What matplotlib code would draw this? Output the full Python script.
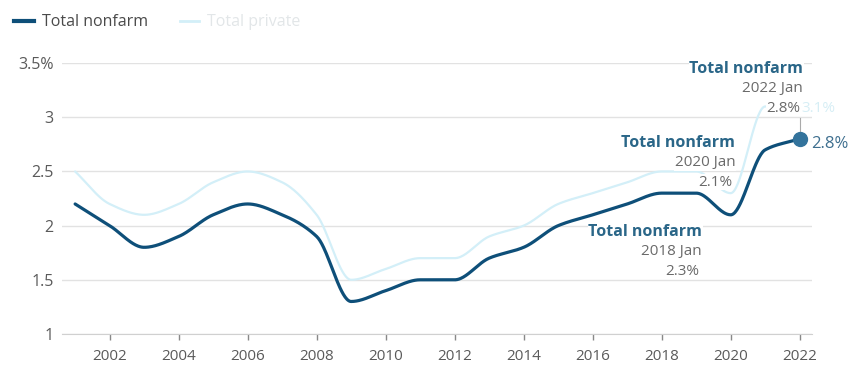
import numpy as np
import matplotlib
matplotlib.use("Agg")
import matplotlib.pyplot as plt
from matplotlib.lines import Line2D

plt.rcParams['font.family'] = ['Open Sans', 'DejaVu Sans']

years = list(range(2001, 2023))
total_nonfarm = [2.2, 2.0, 1.8, 1.9, 2.1, 2.2, 2.1, 1.9, 1.3, 1.4, 1.5,
                 1.5, 1.7, 1.8, 2.0, 2.1, 2.2, 2.3, 2.3, 2.1, 2.7, 2.8]
total_private = [2.5, 2.2, 2.1, 2.2, 2.4, 2.5, 2.4, 2.1, 1.5, 1.6, 1.7,
                 1.7, 1.9, 2.0, 2.2, 2.3, 2.4, 2.5, 2.5, 2.3, 3.1, 3.1]

y_ticks = [1, 1.5, 2, 2.5, 3, 3.5]
y_tick_labels = ["1", "1.5", "2", "2.5", "3", "3.5%"]
x_ticks = list(range(2002, 2023, 2))

# (year, value) callouts for Total nonfarm
callouts = [(2018, 2.3), (2020, 2.1), (2022, 2.8)]

DARK = "#0e4f79"
LIGHT = "#d3eff8"
TEXT = "#5a5a5a"
TITLE_BLUE = "#2a6688"


def monotone_curve(x, y, n=40):
    """Fritsch-Carlson monotone cubic, sampled for a smooth line."""
    x = np.asarray(x, float)
    y = np.asarray(y, float)
    h = np.diff(x)
    d = np.diff(y) / h
    m = np.zeros_like(y)
    m[0], m[-1] = d[0], d[-1]
    for i in range(1, len(y) - 1):
        if d[i - 1] * d[i] <= 0:
            m[i] = 0.0
        else:
            w1 = 2 * h[i] + h[i - 1]
            w2 = h[i] + 2 * h[i - 1]
            m[i] = (w1 + w2) / (w1 / d[i - 1] + w2 / d[i])
    xs, ys = [], []
    for i in range(len(x) - 1):
        t = np.linspace(0, 1, n, endpoint=(i == len(x) - 2))
        h00 = 2 * t**3 - 3 * t**2 + 1
        h10 = t**3 - 2 * t**2 + t
        h01 = -2 * t**3 + 3 * t**2
        h11 = t**3 - t**2
        xs.append(x[i] + t * h[i])
        ys.append(h00 * y[i] + h10 * h[i] * m[i] + h01 * y[i + 1] + h11 * h[i] * m[i + 1])
    return np.concatenate(xs), np.concatenate(ys)


fig = plt.figure(figsize=(8.53, 3.69), dpi=100)
ax = fig.add_axes([0.0727, 0.0949, 0.879, 0.734])

px, py = monotone_curve(years, total_private)
ax.plot(px, py, color=LIGHT, lw=1.6, solid_capstyle="round", zorder=2)
nx, ny = monotone_curve(years, total_nonfarm)
ax.plot(nx, ny, color=DARK, lw=2.3, solid_capstyle="round", zorder=3)

ax.set_xlim(2000.62, 2022.35)
ax.set_ylim(1, 3.5)
ax.set_yticks(y_ticks)
ax.set_yticklabels(y_tick_labels)
ax.set_xticks(x_ticks)
ax.set_xticklabels([str(y) for y in x_ticks])
ax.grid(axis="y", color="#e2e2e2", lw=1)
ax.set_axisbelow(True)
for s in ["top", "right", "left"]:
    ax.spines[s].set_visible(False)
ax.spines["bottom"].set_color("#d0d0d0")
ax.tick_params(axis="y", length=0, pad=6, labelsize=11.5, labelcolor=TEXT)
ax.tick_params(axis="x", length=4, color="#888888", width=1, pad=7,
               labelsize=11, labelcolor=TEXT)

# End-point marker and value
last_year, last_val = years[-1], total_nonfarm[-1]
ax.plot([last_year], [last_val], "o", ms=10, color="#33739c", zorder=5)
ax.text(last_year + 0.33, last_val - 0.05, f"{last_val}%", color="#3e6f8f",
        fontsize=12, va="center", ha="left")
ax.plot([last_year, last_year], [last_val + 0.07, 2.99], color="#aaaaaa", lw=0.8, zorder=4)

# Callouts: (right edge x, centre y of first line)
offsets = {
    2018: (2019.17, 1.94),
    2020: (2020.13, 2.76),
    2022: (2022.1, 3.445),
}
step = 0.18
box = dict(facecolor="white", edgecolor="none", pad=0.3)
for yr, val in callouts:
    tx, ty = offsets[yr]
    ax.text(tx, ty, "Total nonfarm", ha="right", va="center", fontsize=11.5,
            fontweight="bold", color=TITLE_BLUE, zorder=6, bbox=box)
    ax.text(tx, ty - step, f"{yr} Jan", ha="right", va="center", fontsize=11,
            color="#6a6a6a", zorder=6, bbox=box)
    ax.text(tx - 0.08, ty - 2 * step, f"{val}%", ha="right", va="center",
            fontsize=11, color="#6a6a6a", zorder=6, bbox=box)

ax.text(2022.05, 3.445 - 2 * step, f"{total_private[-1]}%", ha="left", va="center",
        fontsize=11, color="#d6eef5", zorder=6)

# Legend
handles = [Line2D([0], [0], color=DARK, lw=3),
           Line2D([0], [0], color=LIGHT, lw=2)]
leg = fig.legend(handles, ["Total nonfarm", "Total private"], loc="upper left",
                 bbox_to_anchor=(0.0, 1.0), ncol=2, frameon=False,
                 fontsize=11.5, handlelength=1.2, handletextpad=0.5,
                 columnspacing=2.0)
leg.get_texts()[0].set_color("#4a4a4a")
leg.get_texts()[1].set_color("#e2e6e8")

fig.savefig("out.png", dpi=100, facecolor="white")
